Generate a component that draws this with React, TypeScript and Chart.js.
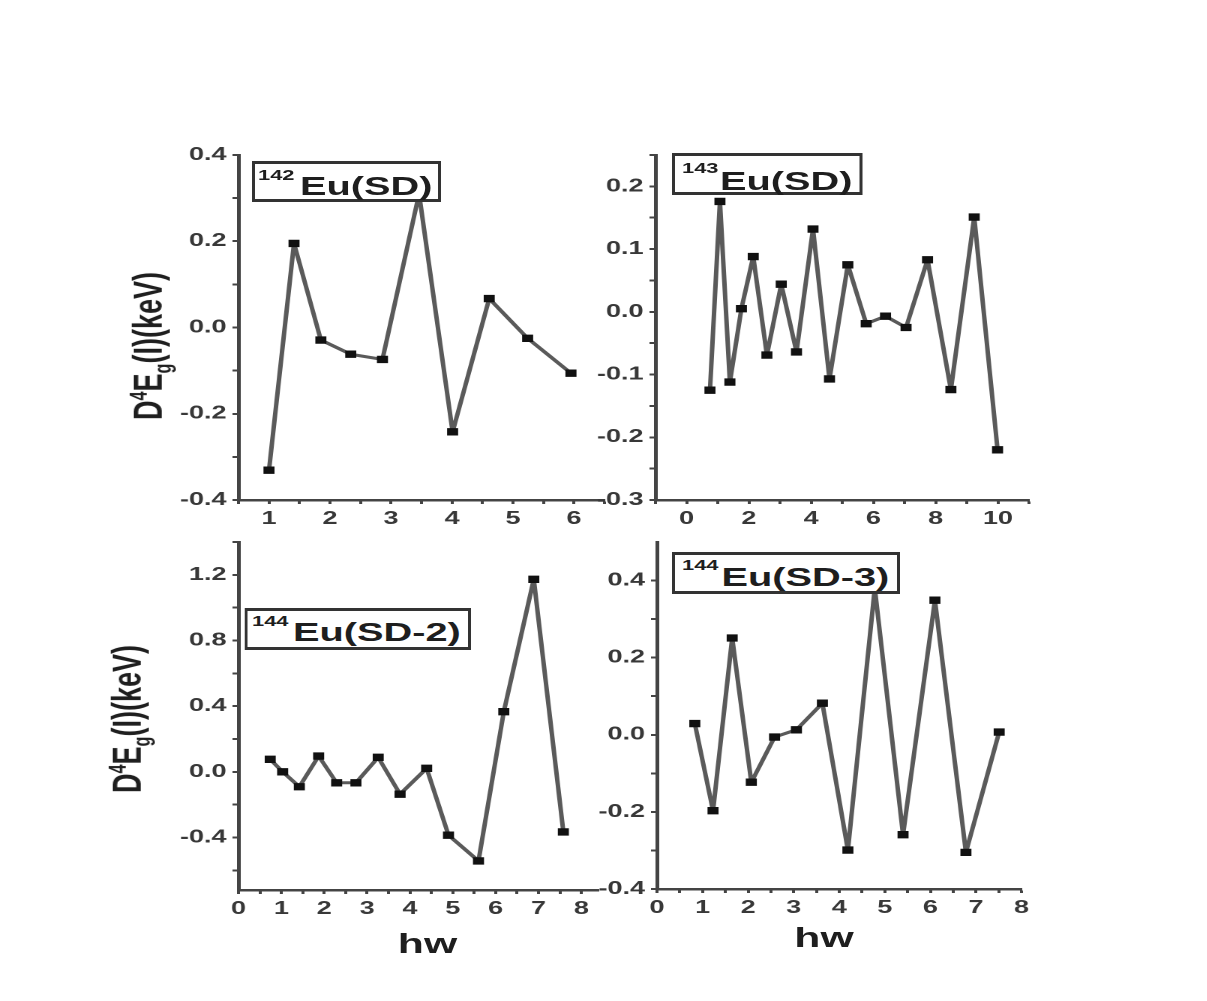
import React, { useEffect, useRef } from 'react';
import { Chart, registerables } from 'chart.js';

Chart.register(...registerables);

// horizontal stretch of the whole figure (the reference is a widened picture)
const S = 1.5;

// ---------- data ----------
// 142Eu(SD)
const hw142 = [1.0, 1.41, 1.85, 2.34, 2.86, 3.46, 4.01, 4.61, 5.24, 5.95];
const d4e142 = [-0.331, 0.195, -0.029, -0.062, -0.074, 0.31, -0.242, 0.067, -0.025, -0.106];
const xMajor142 = [1, 2, 3, 4, 5, 6];
const xMinor142 = [0.5, 1.5, 2.5, 3.5, 4.5, 5.5, 6.5];
const yMajor142 = [-0.4, -0.2, 0.0, 0.2, 0.4];
const yMinor142 = [-0.3, -0.1, 0.1, 0.3];

// 143Eu(SD)
const hw143 = [0.75, 1.07, 1.39, 1.76, 2.14, 2.58, 3.04, 3.53, 4.06, 4.59, 5.18, 5.77, 6.39, 7.05, 7.74, 8.49, 9.24, 9.99];
const d4e143 = [-0.125, 0.176, -0.112, 0.005, 0.088, -0.069, 0.044, -0.064, 0.132, -0.107, 0.075, -0.019, -0.007, -0.025, 0.083, -0.124, 0.151, -0.22];
const xMajor143 = [0, 2, 4, 6, 8, 10];
const xMinor143 = [-1, 1, 3, 5, 7, 9, 11];
const yMajor143 = [-0.3, -0.2, -0.1, 0.0, 0.1, 0.2];
const yMinor143 = [-0.25, -0.15, -0.05, 0.05, 0.15, 0.25];

// 144Eu(SD-2)
const hw144a = [0.74, 1.03, 1.42, 1.87, 2.29, 2.74, 3.26, 3.77, 4.39, 4.9, 5.6, 6.19, 6.89, 7.58];
const d4e144a = [0.076, 0.0, -0.091, 0.096, -0.067, -0.067, 0.088, -0.136, 0.021, -0.386, -0.543, 0.366, 1.173, -0.366];
const xMajor144a = [0, 1, 2, 3, 4, 5, 6, 7, 8];
const xMinor144a = [0.5, 1.5, 2.5, 3.5, 4.5, 5.5, 6.5, 7.5];
const yMajor144a = [-0.4, 0.0, 0.4, 0.8, 1.2];
const yMinor144a = [-0.6, -0.2, 0.2, 0.6, 1.0, 1.4];

// 144Eu(SD-3)
const hw144b = [0.83, 1.23, 1.65, 2.07, 2.58, 3.06, 3.63, 4.19, 4.78, 5.4, 6.1, 6.78, 7.51];
const d4e144b = [0.029, -0.197, 0.251, -0.123, -0.006, 0.013, 0.082, -0.299, 0.38, -0.259, 0.349, -0.305, 0.007];
const xMajor144b = [0, 1, 2, 3, 4, 5, 6, 7, 8];
const xMinor144b = [0.5, 1.5, 2.5, 3.5, 4.5, 5.5, 6.5, 7.5];
const yMajor144b = [-0.4, -0.2, 0.0, 0.2, 0.4];
const yMinor144b = [-0.3, -0.1, 0.1, 0.3];

// ---------- layout ----------
const AX_W = 60;
const AX_H = 40;
const PAD_T = 15;
const PAD_R = 12;
const FONT = '"Liberation Sans", Arial, sans-serif';
const TICK_COLOR = '#383838';
const AXIS_COLOR = '#444';
const TICK_F = 18;

type Panel = {
  hw: number[]; val: number[];
  xMin: number; xMax: number; yMin: number; yMax: number;
  xMajor: number[]; xMinor: number[]; yMajor: number[]; yMinor: number[];
  area: { L: number; T: number; R: number; B: number };
};

const panels: Panel[] = [
  { hw: hw142, val: d4e142, xMin: 0.5, xMax: 6.5, yMin: -0.4, yMax: 0.4,
    xMajor: xMajor142, xMinor: xMinor142, yMajor: yMajor142, yMinor: yMinor142,
    area: { L: 238, T: 155, R: 604, B: 500 } },
  { hw: hw143, val: d4e143, xMin: -1, xMax: 11, yMin: -0.3, yMax: 0.25,
    xMajor: xMajor143, xMinor: xMinor143, yMajor: yMajor143, yMinor: yMinor143,
    area: { L: 655.5, T: 155, R: 1029.5, B: 500 } },
  { hw: hw144a, val: d4e144a, xMin: 0, xMax: 8.4, yMin: -0.72, yMax: 1.4,
    xMajor: xMajor144a, xMinor: xMinor144a, yMajor: yMajor144a, yMinor: yMinor144a,
    area: { L: 238.3, T: 541.7, R: 598.7, B: 889.3 } },
  { hw: hw144b, val: d4e144b, xMin: 0, xMax: 8, yMin: -0.4, yMax: 0.5,
    xMajor: xMajor144b, xMinor: xMinor144b, yMajor: yMajor144b, yMinor: yMinor144b,
    area: { L: 657.3, T: 541.7, R: 1021.7, B: 888.3 } },
];

function PanelChart({ p }: { p: Panel }) {
  const ref = useRef<HTMLCanvasElement | null>(null);
  const aw = Math.round((p.area.R - p.area.L) / S);
  const ah = Math.round(p.area.B - p.area.T);
  const W = aw + AX_W + PAD_R;
  const H = ah + PAD_T + AX_H;

  useEffect(() => {
    if (!ref.current) return;
    const xs = [...p.xMajor, ...p.xMinor].sort((a, b) => a - b);
    const ys = [...p.yMajor, ...p.yMinor].sort((a, b) => a - b);
    const chart = new Chart(ref.current, {
      type: 'scatter',
      data: {
        datasets: [{
          data: p.hw.map((x, i) => ({ x, y: p.val[i] })),
          showLine: true,
          borderColor: '#5a5a5a',
          borderWidth: 3,
          borderJoinStyle: 'round',
          borderCapStyle: 'round',
          pointStyle: 'rect',
          pointRadius: 4.5,
          pointBackgroundColor: '#111',
          pointBorderColor: '#111',
          pointBorderWidth: 1,
          tension: 0,
        }],
      },
      options: {
        responsive: false,
        animation: false,
        devicePixelRatio: 2,
        events: [],
        layout: { padding: { left: 0, top: PAD_T, right: PAD_R, bottom: 0 } },
        plugins: { legend: { display: false }, tooltip: { enabled: false } },
        scales: {
          x: {
            type: 'linear', min: p.xMin, max: p.xMax,
            afterFit: (s: any) => { s.height = AX_H; },
            afterBuildTicks: (s: any) => { s.ticks = xs.map((v) => ({ value: v })); },
            ticks: {
              autoSkip: false, maxRotation: 0, padding: 4, color: TICK_COLOR,
              font: { family: FONT, size: TICK_F, weight: 'bold' },
              callback: (v: any) => (p.xMajor.includes(v) ? String(v) : ''),
            },
            grid: { drawOnChartArea: false, drawTicks: true, tickLength: 4, tickWidth: 2, tickColor: AXIS_COLOR },
            border: { display: true, color: AXIS_COLOR, width: 2.5 },
          },
          y: {
            type: 'linear', min: p.yMin, max: p.yMax,
            afterFit: (s: any) => { s.width = AX_W; },
            afterBuildTicks: (s: any) => { s.ticks = ys.map((v) => ({ value: v })); },
            ticks: {
              autoSkip: false, padding: 4, color: TICK_COLOR,
              font: { family: FONT, size: TICK_F, weight: 'bold' },
              callback: (v: any) => (p.yMajor.includes(v) ? Number(v).toFixed(1) : ''),
            },
            grid: { drawOnChartArea: false, drawTicks: true, tickLength: 4, tickWidth: 2, tickColor: AXIS_COLOR },
            border: { display: true, color: AXIS_COLOR, width: 2.5 },
          },
        },
      } as any,
    });
    return () => chart.destroy();
  }, []);

  return (
    <canvas
      ref={ref}
      width={W}
      height={H}
      style={{ position: 'absolute', left: p.area.L / S - AX_W, top: p.area.T - PAD_T, width: W, height: H }}
    />
  );
}

type BoxSpec = {
  x1: number; y1: number; x2: number; y2: number;
  sup: string; main: string;
  supLeft: number; supBase: number; mainLeft: number; mainBase: number;
};

const boxes: BoxSpec[] = [
  { x1: 251.7, y1: 160.7, x2: 441.7, y2: 201.7, sup: '142', main: 'Eu(SD)', supLeft: 258, supBase: 180, mainLeft: 300, mainBase: 195 },
  { x1: 671.7, y1: 153.3, x2: 862.7, y2: 195, sup: '143', main: 'Eu(SD)', supLeft: 682, supBase: 173.5, mainLeft: 720, mainBase: 190 },
  { x1: 245, y1: 608, x2: 470.7, y2: 650, sup: '144', main: 'Eu(SD-2)', supLeft: 252, supBase: 626.5, mainLeft: 293, mainBase: 641.7 },
  { x1: 671.7, y1: 551.7, x2: 900, y2: 594, sup: '144', main: 'Eu(SD-3)', supLeft: 682, supBase: 570, mainLeft: 721.5, mainBase: 586.7 },
];

const BOX_F = 26.5;
const SUP_F = 14.6;
const TEXT_COLOR = '#1e1e1e';

function LabelBox({ b }: { b: BoxSpec }) {
  return (
    <>
      <div style={{
        position: 'absolute', left: b.x1 / S, top: b.y1, width: (b.x2 - b.x1) / S, height: b.y2 - b.y1,
        boxSizing: 'border-box', borderStyle: 'solid', borderColor: '#333',
        borderWidth: '3px 2px 3px 2px', background: '#fff',
      }} />
      <div style={{
        position: 'absolute', left: b.supLeft / S, top: b.supBase - 0.8465 * SUP_F,
        fontSize: SUP_F, lineHeight: `${SUP_F}px`, fontWeight: 'bold', color: TEXT_COLOR, whiteSpace: 'nowrap',
      }}>{b.sup}</div>
      <div style={{
        position: 'absolute', left: b.mainLeft / S, top: b.mainBase - 0.8465 * BOX_F,
        fontSize: BOX_F, lineHeight: `${BOX_F}px`, fontWeight: 'bold', color: TEXT_COLOR, whiteSpace: 'nowrap',
      }}>{b.main}</div>
    </>
  );
}

const Y_F = 27;
const yTitles = [
  { baseX: 162, cy: 346 },
  { baseX: 141, cy: 719 },
];

function YTitle({ baseX, cy }: { baseX: number; cy: number }) {
  const cx = baseX / S - 0.3465 * Y_F;
  return (
    <div style={{
      position: 'absolute', left: cx, top: cy, transform: 'translate(-50%, -50%) rotate(-90deg)',
      fontSize: Y_F, lineHeight: `${Y_F}px`, fontWeight: 'bold', color: TEXT_COLOR, whiteSpace: 'nowrap',
    }}>
      D<sup style={{ fontSize: '0.6em', lineHeight: 0 }}>4</sup>E<sub style={{ fontSize: '0.6em', lineHeight: 0 }}>g</sub>(I)(keV)
    </div>
  );
}

const X_F = 28.5;
const xTitles = [
  { cx: 427.5, base: 953 },
  { cx: 824, base: 947 },
];

function XTitle({ cx, base }: { cx: number; base: number }) {
  return (
    <div style={{
      position: 'absolute', left: cx / S, top: base - 0.8465 * X_F, transform: 'translateX(-50%)',
      fontSize: X_F, lineHeight: `${X_F}px`, fontWeight: 'bold', color: TEXT_COLOR, whiteSpace: 'nowrap',
    }}>hw</div>
  );
}

export default function App() {
  return (
    <div style={{
      position: 'absolute', left: 0, top: 0, width: 1207 / S, height: 1000,
      transform: `scaleX(${S})`, transformOrigin: '0 0', overflow: 'hidden',
      background: '#fff', fontFamily: FONT,
    }}>
      {panels.map((p, i) => <PanelChart key={i} p={p} />)}
      {boxes.map((b, i) => <LabelBox key={i} b={b} />)}
      {yTitles.map((t, i) => <YTitle key={i} baseX={t.baseX} cy={t.cy} />)}
      {xTitles.map((t, i) => <XTitle key={i} cx={t.cx} base={t.base} />)}
    </div>
  );
}
